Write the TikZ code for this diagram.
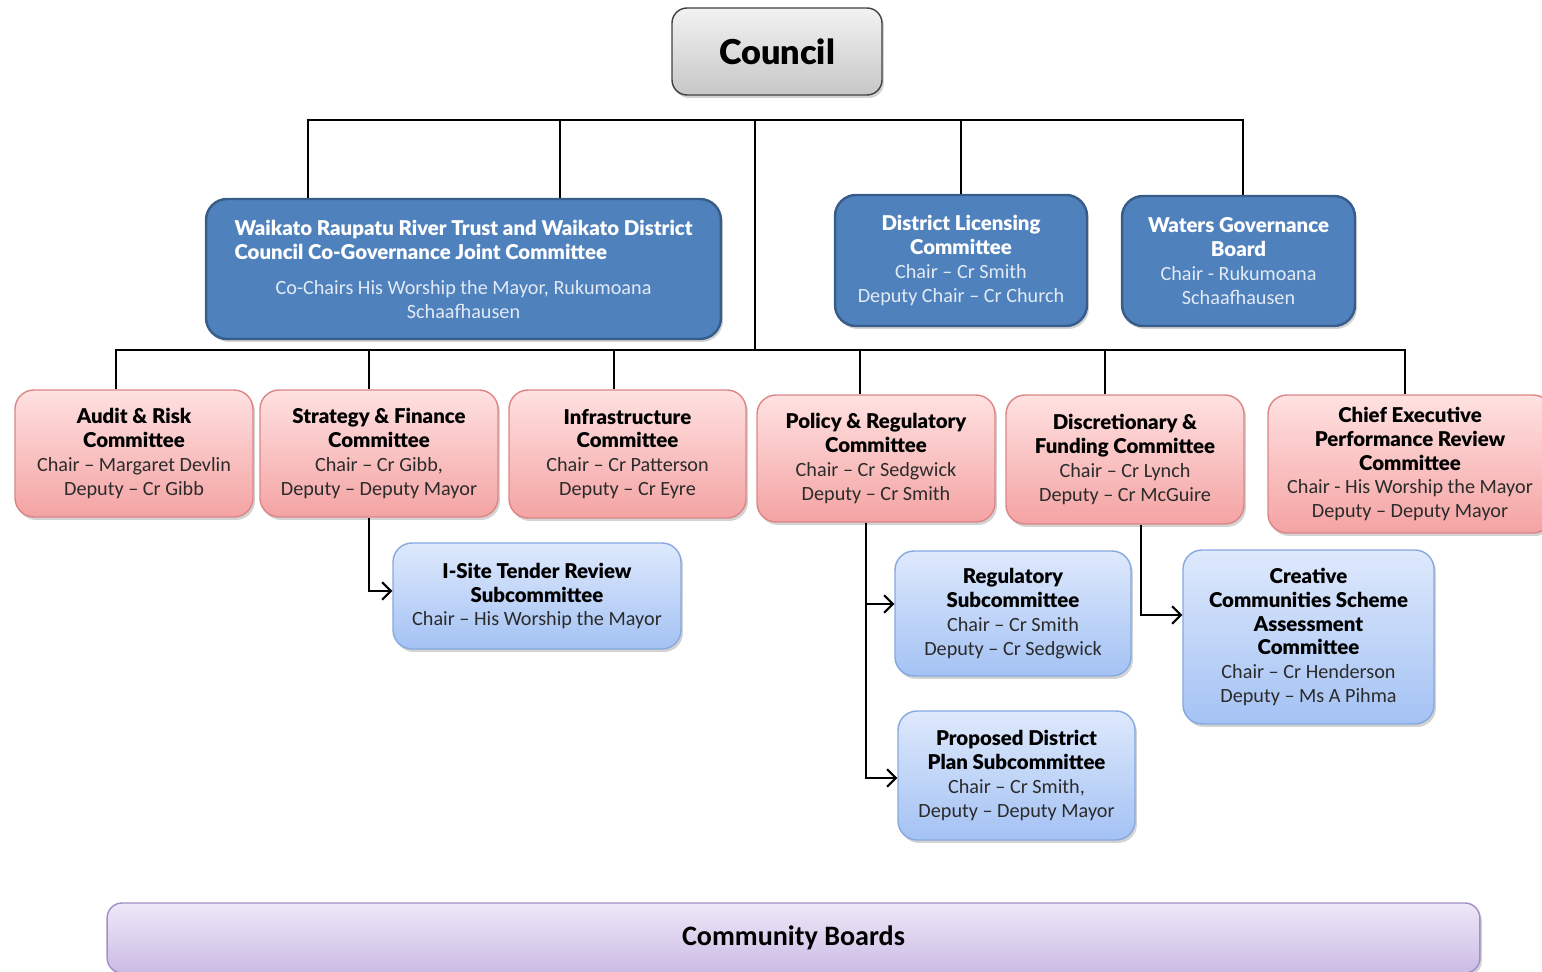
\documentclass[tikz,border=0pt]{standalone}
\usepackage{fontspec}
\setmainfont{Carlito}
\newfontfamily\headfont{Lato Black}
\usepackage{tikz, xcolor}
\usetikzlibrary{shadows, arrows.meta}
\usetikzlibrary{calc}

\definecolor{govblue}{HTML}{4F81BD}
\definecolor{govedge}{HTML}{385D8A}
\definecolor{govsub}{HTML}{E2EAF5}
\definecolor{redtop}{HTML}{FFE1E1}
\definecolor{redbot}{HTML}{F4A3A3}
\definecolor{rededge}{HTML}{DC8584}
\definecolor{subtop}{HTML}{DEE9FC}
\definecolor{subbot}{HTML}{A4C2F4}
\definecolor{subedge}{HTML}{86A9DD}
\definecolor{cbtop}{HTML}{EEE8F7}
\definecolor{cbbot}{HTML}{CBBBE5}
\definecolor{cbedge}{HTML}{A190C8}
\definecolor{bodygray}{HTML}{2B2B2B}

\newcommand{\titlef}{\headfont\fontsize{11.6}{13.6}\selectfont}

\begin{document}
\begin{tikzpicture}[x=0.02cm, y=-0.02cm,
    font=\fontsize{11.5}{13.6}\selectfont,
    boxshadow/.style={drop shadow={opacity=0.35, shadow xshift=0.04cm, shadow yshift=-0.06cm}},
    council/.style={draw=black!75, thick, rounded corners=0.3cm, top color=black!5, bottom color=black!22,
        boxshadow, minimum width=4.2cm, minimum height=1.74cm, font=\headfont\fontsize{19.5}{24}\selectfont},
    govbox/.style={draw=govedge, line width=1.4pt, rounded corners=0.42cm, fill=govblue, text=white, align=center, boxshadow},
    combox/.style={draw=rededge, line width=0.8pt, rounded corners=0.38cm, top color=redtop, bottom color=redbot,
        text=bodygray, align=center, boxshadow, minimum width=4.76cm, minimum height=2.54cm},
    subbox/.style={draw=subedge, line width=0.8pt, rounded corners=0.38cm, top color=subtop, bottom color=subbot,
        text=bodygray, align=center, boxshadow},
    boardbox/.style={draw=cbedge, line width=0.8pt, rounded corners=0.3cm, top color=cbtop, bottom color=cbbot,
        boxshadow, font=\bfseries\fontsize{16}{19}\selectfont},
    link/.style={black, line width=1.2pt},
    arrow/.style={black, line width=1.2pt, -{Straight Barb[length=5pt, width=10pt, line width=1.2pt]}},
    ]

    \useasboundingbox (0,0) rectangle (1542,972);

    \node(council)[council] at (777,51.5) {Council};

    % governance level
    \node(wrt)[govbox, minimum width=10.3cm, minimum height=2.8cm] at (463.5,269)
        {{\titlef\color{white}\begin{tabular}{@{}l@{}}Waikato Raupatu River Trust and Waikato District\\Council Co-Governance Joint Committee\end{tabular}}\\[7pt]
         \color{govsub}Co-Chairs His Worship the Mayor, Rukumoana\\\color{govsub}Schaafhausen};
    \node(dlc)[govbox, minimum width=5.04cm, minimum height=2.62cm] at (961,260.5)
        {{\titlef District Licensing}\\{\titlef Committee}\\\color{govsub}Chair -- Cr Smith\\\color{govsub}Deputy Chair -- Cr Church};
    \node(wgb)[govbox, minimum width=4.66cm, minimum height=2.6cm] at (1238.5,261)
        {{\titlef Waters Governance}\\{\titlef Board}\\\color{govsub}Chair - Rukumoana\\\color{govsub}Schaafhausen};

    % committees
    \node(audit)[combox] at (134,453.5)
        {{\titlef\color{black}Audit \& Risk}\\{\titlef\color{black}Committee}\\Chair -- Margaret Devlin\\Deputy -- Cr Gibb};
    \node(sfc)[combox] at (379,453.5)
        {{\titlef\color{black}Strategy \& Finance}\\{\titlef\color{black}Committee}\\Chair -- Cr Gibb,\\Deputy -- Deputy Mayor};
    \node(infra)[combox, minimum width=4.74cm, minimum height=2.56cm] at (627.5,454)
        {{\titlef\color{black}Infrastructure}\\{\titlef\color{black}Committee}\\Chair -- Cr Patterson\\Deputy -- Cr Eyre};
    \node(prc)[combox] at (876,458.5)
        {{\titlef\color{black}Policy \& Regulatory}\\{\titlef\color{black}Committee}\\Chair -- Cr Sedgwick\\Deputy -- Cr Smith};
    \node(dfc)[combox, minimum height=2.58cm] at (1125,459.5)
        {{\titlef\color{black}Discretionary \&}\\{\titlef\color{black}Funding Committee}\\Chair -- Cr Lynch\\Deputy -- Cr McGuire};
    \node(cepr)[combox, minimum width=5.68cm, minimum height=2.76cm] at (1410,464)
        {{\titlef\color{black}Chief Executive}\\{\titlef\color{black}Performance Review}\\{\titlef\color{black}Committee}\\Chair - His Worship the Mayor\\Deputy -- Deputy Mayor};

    % subcommittees
    \node(isite)[subbox, minimum width=5.76cm, minimum height=2.12cm] at (537,596)
        {{\titlef\color{black}I-Site Tender Review}\\{\titlef\color{black}Subcommittee}\\Chair -- His Worship the Mayor};
    \node(reg)[subbox, minimum width=4.72cm, minimum height=2.5cm] at (1013,613.5)
        {{\titlef\color{black}Regulatory}\\{\titlef\color{black}Subcommittee}\\Chair -- Cr Smith\\Deputy -- Cr Sedgwick};
    \node(pdp)[subbox, minimum width=4.74cm, minimum height=2.58cm] at (1016.5,775.5)
        {{\titlef\color{black}Proposed District}\\{\titlef\color{black}Plan Subcommittee}\\Chair -- Cr Smith,\\Deputy -- Deputy Mayor};
    \node(ccs)[subbox, minimum width=5.02cm, minimum height=3.48cm] at (1308.5,637)
        {{\titlef\color{black}Creative}\\{\titlef\color{black}Communities Scheme}\\{\titlef\color{black}Assessment}\\{\titlef\color{black}Committee}\\Chair -- Cr Henderson\\Deputy -- Ms A Pihma};

    \node(cb)[boardbox, minimum width=27.46cm, minimum height=1.4cm] at (793.5,938) {Community Boards};

    % bus lines
    \coordinate (t1) at (308,120);
    \coordinate (t2) at (560,120);
    \coordinate (t3) at (755,120);
    \coordinate (t4) at (1243,120);
    \coordinate (b1) at (116,350);
    \coordinate (b2) at (369,350);
    \coordinate (b3) at (614,350);
    \coordinate (b4) at (860,350);
    \coordinate (b5) at (1105,350);
    \coordinate (b6) at (1405,350);

    \draw[link] (wrt.north -| t1) -- (t1) -- (t4) -- (t4 |- wgb.north);
    \draw[link] (t2) -- (t2 |- wrt.north);
    \draw[link] (t3 -| dlc.north) -- (dlc.north);
    \draw[link] (t3) -- (t3 |- b1);
    \draw[link] (b1 |- audit.north) -- (b1) -- (b6) -- (b6 |- cepr.north);
    \draw[link] (b2) -- (b2 |- sfc.north);
    \draw[link] (b3) -- (b3 |- infra.north);
    \draw[link] (b4) -- (b4 |- prc.north);
    \draw[link] (b5) -- (b5 |- dfc.north);

    % subcommittee arrows
    \draw[arrow] (sfc.south -| b2) |- ($(isite.west)+(0,-5)$);
    \draw[arrow] ($(prc.south)+(-10,0)$) |- ($(reg.west)+(0,-9.5)$);
    \draw[arrow] ($(prc.south)+(-10,0)$) |- ($(pdp.west)+(0,2.5)$);
    \draw[arrow] ($(dfc.south)+(16,0)$) |- ($(ccs.west)+(0,-22)$);

\end{tikzpicture}
\end{document}
